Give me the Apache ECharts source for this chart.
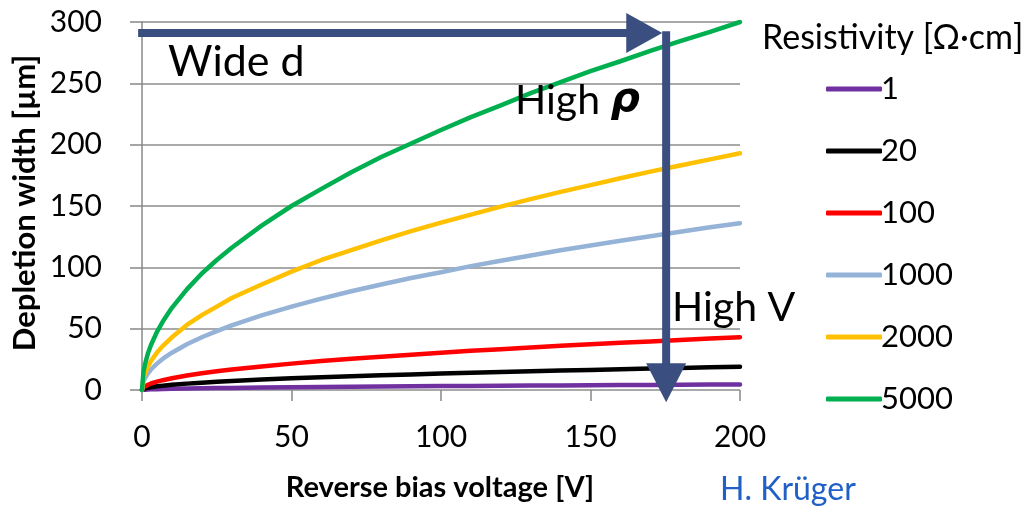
<!DOCTYPE html>
<html><head><meta charset="utf-8">
<script src="https://cdn.jsdelivr.net/npm/echarts@6/dist/echarts.min.js"></script>
<style>html,body{margin:0;padding:0;background:#fff}#c{width:1024px;height:512px}</style>
</head><body><div id="c"></div>
<script>
const voltage = [0, 0.5, 1, 2, 3, 5, 7, 10, 15, 20, 25, 30, 40, 50, 60, 70, 80, 90, 100, 110, 120, 130, 140, 150, 160, 170, 180, 190, 200];
const rho1    = [0, 0.2, 0.3, 0.45, 0.55, 0.7, 0.85, 1, 1.2, 1.4, 1.6, 1.7, 2, 2.2, 2.5, 2.7, 2.8, 3, 3.2, 3.3, 3.5, 3.6, 3.7, 3.9, 4, 4.1, 4.2, 4.4, 4.5];
const rho20   = [0, 0.95, 1.3, 1.9, 2.3, 3, 3.5, 4.2, 5.2, 6, 6.7, 7.3, 8.5, 9.5, 10.4, 11.2, 12, 12.7, 13.4, 14.1, 14.7, 15.3, 15.9, 16.4, 17, 17.5, 18, 18.5, 19];
const rho100  = [0, 2.1, 3, 4.3, 5.3, 6.8, 8, 9.6, 11.8, 13.6, 15.2, 16.7, 19.2, 21.5, 23.6, 25.4, 27.2, 28.8, 30.4, 31.9, 33.3, 34.7, 36, 37.2, 38.5, 39.6, 40.8, 41.9, 43];
const rho1000 = [0, 6.8, 9.6, 13.6, 16.7, 21.5, 25.5, 30.4, 37.3, 43, 48, 52.7, 60.8, 68, 74.5, 80.5, 86, 91.3, 96, 101, 105.4, 109.7, 114, 117.8, 121.7, 125.4, 129, 132.6, 136];
const rho2000 = [0, 9.7, 13.6, 19.3, 23.6, 30.5, 36, 43, 53, 61, 68, 75, 86, 96.5, 106, 114, 122, 129.5, 136.5, 143, 149.5, 155.6, 161.5, 167, 172.6, 178, 183, 188, 193];
const rho5000 = [0, 15, 21, 30, 36.7, 47.4, 56, 67, 82, 95, 106, 116, 134, 150, 164, 177.5, 190, 201, 212, 222.5, 232, 242, 251, 260, 268, 276.5, 284.5, 292, 300];
const seriesNames = ['1', '20', '100', '1000', '2000', '5000'];
const seriesData = [rho1, rho20, rho100, rho1000, rho2000, rho5000];
const colors = ['#7030A0', '#000000', '#FF0000', '#95B3D7', '#FFC000', '#00B050'];

const FONT = 'Lato';
const chart = echarts.init(document.getElementById('c'));
const series = seriesNames.map((n, i) => ({
  name: n, type: 'line', data: voltage.map((v, j) => [v, seriesData[i][j]]),
  smooth: false, showSymbol: false, symbol: 'none',
  lineStyle: { color: colors[i], width: 4.5, cap: 'round', join: 'round' }, itemStyle: { color: colors[i] },
  z: 2 + i
}));
chart.setOption({
  animation: false,
  grid: { left: 142, right: 284, top: 22, bottom: 122 },
  xAxis: {
    type: 'value', min: 0, max: 200, interval: 50,
    axisLine: { show: false },
    axisTick: { show: true, length: 11, lineStyle: { color: '#888', width: 1.5 } },
    axisLabel: { margin: 32, fontSize: 30, color: '#000', fontFamily: FONT },
    splitLine: { show: false }
  },
  yAxis: {
    type: 'value', min: 0, max: 300, interval: 50,
    axisLine: { show: true, lineStyle: { color: '#888', width: 1.5 } },
    axisTick: { show: true, length: 12, lineStyle: { color: '#888', width: 1.5 } },
    axisLabel: { margin: 40, fontSize: 30, color: '#000', fontFamily: FONT },
    splitLine: { show: true, lineStyle: { color: '#8c8c8c', width: 1.5 } }
  },
  legend: {
    orient: 'vertical', left: 821, top: 66, itemWidth: 56, itemHeight: 5, itemGap: 26,
    icon: 'roundRect',
    data: seriesNames,
    textStyle: { fontSize: 31, lineHeight: 36, color: '#000', fontFamily: FONT, padding: [0, 0, 0, -6] }
  },
  series: series
});

function draw() {
  const P = (x, y) => chart.convertToPixel({ gridIndex: 0 }, [x, y]);
  const col = '#3B4E80';
  const h0 = P(-1.3, 291), h1 = P(174, 291);
  const v0 = P(175.3, 292.5), v1 = P(175.3, -10);
  const hl = 36, hw = 20;
  chart.setOption({
    graphic: [
      { type: 'line', shape: { x1: h0[0], y1: h0[1], x2: h1[0] - hl + 2, y2: h1[1] }, style: { stroke: col, lineWidth: 8 }, z: 20 },
      { type: 'polygon', shape: { points: [[h1[0], h1[1]], [h1[0] - hl, h1[1] - hw], [h1[0] - hl, h1[1] + hw]] }, style: { fill: col }, z: 20 },
      { type: 'line', shape: { x1: v0[0], y1: v0[1], x2: v1[0], y2: v1[1] - 38 }, style: { stroke: col, lineWidth: 8 }, z: 20 },
      { type: 'polygon', shape: { points: [[v1[0], v1[1]], [v1[0] - hw, v1[1] - 39], [v1[0] + hw, v1[1] - 39]] }, style: { fill: col }, z: 20 },
      { type: 'text', left: 168, top: 41, style: { text: 'Wide d', fontSize: 43, fontFamily: FONT, fill: '#000' }, z: 21 },
      { type: 'text', left: 515, top: 80, style: { text: 'High {r|ρ}', fontSize: 41, fontFamily: FONT, fill: '#000',
          rich: { r: { fontSize: 41, fontStyle: 'italic', fontWeight: 'bold', fontFamily: 'DejaVu Sans', fill: '#000' } } }, z: 21 },
      { type: 'text', left: 672, top: 287, style: { text: 'High V', fontSize: 41, fontFamily: FONT, fill: '#000' }, z: 21 },
      { type: 'text', left: 762, top: 21, style: { text: 'Resistivity [Ω·cm]', fontSize: 34, fontFamily: FONT, fill: '#000' } },
      { type: 'text', left: 720, top: 474, style: { text: 'H. Krüger', fontSize: 32, fontFamily: FONT, fill: '#1F5FC6' } },
      { type: 'text', x: 440, y: 488, style: { text: 'Reverse bias voltage [V]', fontSize: 29, fontWeight: 'bold', fontFamily: FONT, fill: '#000', align: 'center', verticalAlign: 'middle' } },
      { type: 'text', x: 25, y: 203, rotation: Math.PI / 2, style: { text: 'Depletion width [µm]', fontSize: 31, fontWeight: 'bold', fontFamily: FONT, fill: '#000', align: 'center', verticalAlign: 'middle' } }
    ]
  });
}
draw();
</script></body></html>
